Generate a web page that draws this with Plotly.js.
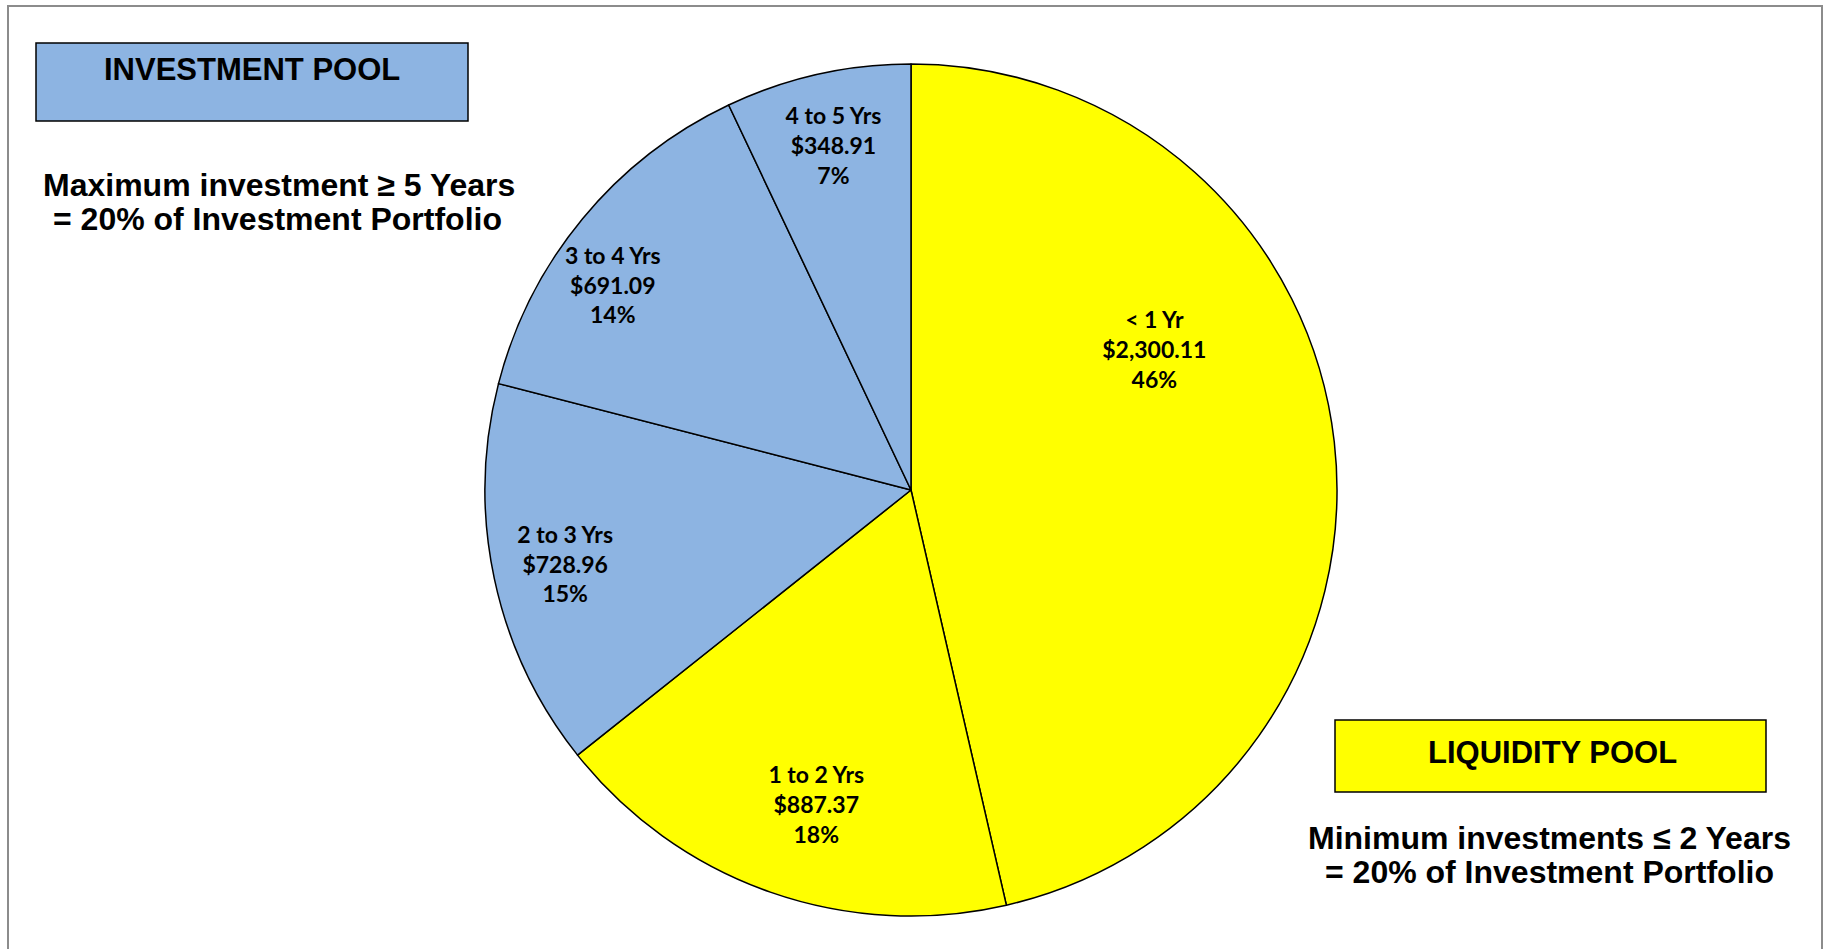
<!DOCTYPE html>
<html>
<head>
<meta charset="utf-8">
<script src="https://cdn.plot.ly/plotly-3.0.1.min.js"></script>
<style>
  html, body { margin: 0; padding: 0; background: #ffffff; }
  #chart { width: 1836px; height: 949px; }
</style>
</head>
<body>
<div id="chart"></div>
<script>
// ---- data ----
const categories = ["< 1 Yr", "1 to 2 Yrs", "2 to 3 Yrs", "3 to 4 Yrs", "4 to 5 Yrs"];
const amounts = [2300.11, 887.37, 728.96, 691.09, 348.91];
const sliceColors = ["#FFFF00", "#FFFF00", "#8DB4E2", "#8DB4E2", "#8DB4E2"];

const poolTitles = ["INVESTMENT POOL", "LIQUIDITY POOL"];
const investmentNote = ["Maximum investment ≥ 5 Years", "= 20% of Investment Portfolio"];
const liquidityNote = ["Minimum investments ≤ 2 Years", "= 20% of Investment Portfolio"];

// which label ring each slice's data label sits in (Excel-style placement)
const labelGroup = ["inner", "middle", "outer", "edge", "outer"];

const W = 1836, H = 949;
const px = v => v / W;
const py = v => 1 - v / H;
const pieDomain = { x: [px(911 - 427), px(911 + 427)], y: [py(490 + 426), py(490 - 426)] };
const labelTemplate = "%{label}<br>$%{value:,.2f}<br>%{percent:.0%}";
const labelFont = { family: "Lato, 'Open Sans', sans-serif", size: 23, color: "#000000", weight: "bold" };

// slices
const slices = {
  type: "pie",
  labels: categories,
  values: amounts,
  sort: false,
  direction: "clockwise",
  rotation: 0,
  marker: { colors: sliceColors, line: { color: "#000000", width: 1.5 } },
  texttemplate: "",
  textinfo: "none",
  hoverinfo: "none",
  domain: pieDomain
};

// transparent label layers (same values, same domain), one per label ring
function labelLayer(group, hole, rotation) {
  return {
    type: "pie",
    labels: categories,
    values: amounts,
    sort: false,
    direction: "clockwise",
    rotation: rotation,
    hole: hole,
    marker: { colors: categories.map(() => "rgba(0,0,0,0)"), line: { width: 0 } },
    texttemplate: labelGroup.map(g => g === group ? labelTemplate : ""),
    textposition: "inside",
    insidetextorientation: "horizontal",
    textfont: labelFont,
    hoverinfo: "none",
    domain: pieDomain
  };
}

const boxFont = { family: "'Liberation Sans', Arial, sans-serif", color: "#000000", weight: "bold" };
function note(x, y, text, size) {
  return { xref: "paper", yref: "paper", x: px(x), y: py(y), text: text, showarrow: false,
    font: Object.assign({ size: size }, boxFont), xanchor: "center", yanchor: "middle" };
}

const layout = {
  width: W, height: H,
  margin: { l: 0, r: 0, t: 0, b: 0 },
  paper_bgcolor: "#ffffff",
  showlegend: false,
  uniformtext: { mode: "show", minsize: 23 },
  shapes: [
    { type: "rect", xref: "paper", yref: "paper", x0: px(8), x1: px(1822), y0: py(960), y1: py(6),
      line: { color: "#8c8c8c", width: 2 }, fillcolor: "rgba(0,0,0,0)" },
    { type: "rect", xref: "paper", yref: "paper", x0: px(36), x1: px(468), y0: py(121), y1: py(43),
      line: { color: "#000000", width: 1.5 }, fillcolor: "#8DB4E2" },
    { type: "rect", xref: "paper", yref: "paper", x0: px(1335), x1: px(1766), y0: py(792), y1: py(720),
      line: { color: "#000000", width: 1.5 }, fillcolor: "#FFFF00" }
  ],
  annotations: [
    note(252, 70, poolTitles[0], 31),
    note(1552, 752, poolTitles[1], 31),
    note(279, 185, investmentNote[0], 32),
    note(277, 219, investmentNote[1], 32),
    note(1549, 838, liquidityNote[0], 32),
    note(1549, 872, liquidityNote[1], 32)
  ]
};

const data = [
  slices,
  labelLayer("outer", 0.66, 0),
  labelLayer("edge", 0.70, -5),
  labelLayer("middle", 0.54, -2.5),
  labelLayer("inner", 0.32, -23.6)
];

Plotly.newPlot("chart", data, layout, { displayModeBar: false, staticPlot: true });
</script>
</body>
</html>
